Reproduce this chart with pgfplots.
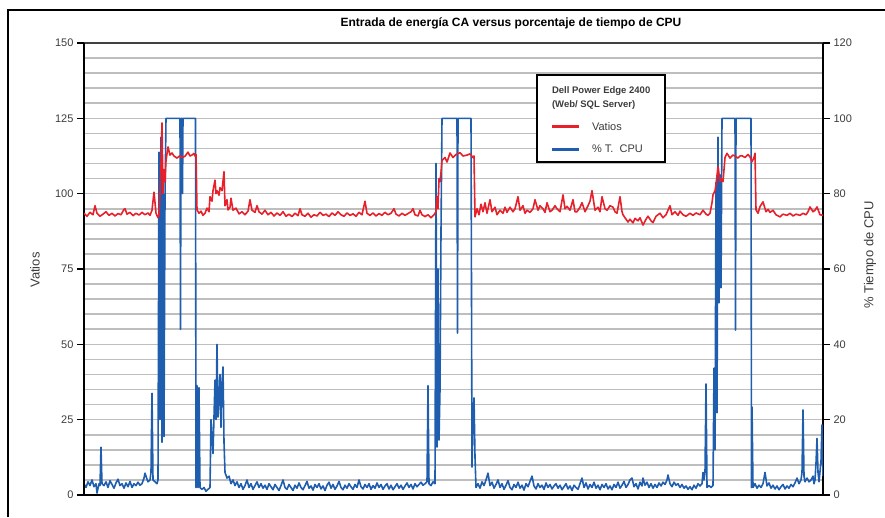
\documentclass[border=0pt]{standalone}
\usepackage{fontspec}
\setmainfont{Liberation Sans}
\usepackage{pgfplots}
\pgfplotsset{compat=1.18}
\definecolor{vred}{HTML}{E8202A}
\definecolor{cblue}{HTML}{1F5DAE}
\definecolor{gridgray}{HTML}{BEBEBE}
\definecolor{ticktext}{HTML}{3C3C3C}

\pgfplotsset{
  base/.style={
    at={(84pt,22pt)}, anchor=south west, scale only axis,
    width=739pt, height=452pt, xmin=84, xmax=823,
    xtick=\empty, tick align=outside,
    major tick length=7pt, minor tick length=0pt,
    every tick/.style={black, line width=1.6pt},
    yticklabel style={font=\fontsize{11}{13}\selectfont, text=ticktext},
    /pgf/number format/assume math mode=true,
  },
}

\begin{document}
\begin{tikzpicture}
\path[use as bounding box] (0,0) rectangle (885pt,517pt);
\draw[black, line width=2.5pt] (8pt,0pt) -- (8pt,507pt) -- (886pt,507pt);

\node[font=\bfseries\fontsize{12}{14}\selectfont] at (511pt,494pt)
  {Entrada de energía CA versus porcentaje de tiempo de CPU};
\node[rotate=90, font=\fontsize{13}{15}\selectfont, text=ticktext] at (35pt,247pt) {Vatios};
\node[rotate=90, font=\fontsize{13}{15}\selectfont, text=ticktext] at (870pt,262pt) {\% Tiempo de CPU};

% right axis: % CPU time, carries the grid
\begin{axis}[base,
  ymin=0, ymax=120,
  axis y line*=right, axis x line*=top,
  y axis line style={black, line width=2.6pt},
  x axis line style={black!75, line width=1.8pt},
  ytick={0,20,...,120}, minor ytick={0,4,...,120},
  ymajorgrids, yminorgrids,
  grid style={gridgray, line width=1.6pt},
]
\addplot[cblue, line width=1.6pt, line join=round] coordinates {
(84,3.0)(86,2.0)(88,3.5)(90,2.5)(92,4.0)(94,2.2)(96,3.0)(97,0.5)(99,3.0)(100,2.5)
(101,12.7)(102,3.0)(104,2.5)(106,3.5)(108,2.0)(110,3.8)(112,2.8)(114,1.8)(116,3.2)(118,4.2)
(120,2.5)(122,3.0)(124,1.8)(126,3.2)(128,2.2)(130,3.6)(132,2.0)(134,3.0)(136,2.5)(138,3.4)
(140,2.6)(142,3.0)(144,4.5)(145,5.8)(147,4.2)(148,3.5)(150,4.0)(151,6.0)(152,27.0)(153,4.0)
(155,3.5)(157,3.0)(158,4.0)(159,91.0)(160,20.0)(161,95.0)(162,14.0)(163,80.0)(164,15.5)(165,79.0)
(166,100.0)(180,100.0)(180.5,44.0)(181,100.0)(182,100.0)(182.5,80.0)(183,100.0)(195.5,100.0)(196,2.0)
(197,29.0)(198,2.0)(199,28.5)(200,2.0)(202,1.5)(204,2.0)(206,1.0)(208,1.5)(210,2.0)
(211,20.0)(213,11.0)(215,30.5)(216,20.0)(217,40.0)(218,20.7)(219,25.0)(220,32.0)(221,18.0)(222,30.0)
(223,34.0)(224,14.0)(225,6.0)(227,4.5)(229,5.0)(231,3.0)(233,4.0)(235,2.5)(237,3.5)(239,2.0)
(241,3.0)(243,1.5)(245,2.5)(247,4.0)(249,2.0)(251,3.0)(253,1.5)(255,2.5)(257,3.5)(259,2.0)
(261,3.0)(263,1.8)(265,2.6)(267,1.5)(269,3.0)(271,2.2)(273,1.4)(275,2.8)(277,2.0)(279,1.2)
(281,2.5)(283,4.0)(285,2.0)(287,1.5)(289,2.8)(291,2.0)(293,1.2)(295,2.6)(297,1.8)(299,3.2)
(301,2.0)(303,1.4)(305,2.5)(307,3.6)(309,1.8)(311,2.4)(313,1.3)(315,2.8)(317,2.0)(319,3.0)
(321,1.6)(323,2.4)(325,1.2)(327,2.6)(329,3.4)(331,1.8)(333,2.8)(335,1.5)(337,2.4)(339,3.6)
(341,2.0)(343,1.4)(345,2.6)(347,1.8)(349,3.0)(351,2.2)(353,1.5)(355,2.8)(357,2.0)(359,4.0)
(361,2.2)(363,1.6)(365,2.8)(367,2.0)(369,3.0)(371,1.5)(373,2.5)(375,1.8)(377,3.2)(379,2.0)
(381,2.8)(383,1.5)(385,2.4)(387,3.0)(389,1.6)(391,2.6)(393,1.4)(395,2.2)(397,3.0)(399,1.8)
(401,2.6)(403,1.5)(405,2.4)(407,3.2)(409,2.0)(411,2.8)(413,1.6)(415,3.0)(417,2.2)(419,2.8)
(421,3.4)(423,2.6)(425,3.0)(427,3.5)(428,29.0)(429,3.0)(431,2.5)(433,3.5)(435,3.0)
(436,88.0)(437,12.7)(438,60.0)(439,14.6)(440,28.0)(441,70.0)(442,100.0)(457,100.0)(457.5,43.0)(458,100.0)
(471,100.0)(472,7.4)(473,20.0)(474,25.8)(475,10.0)(476,2.0)(478,3.0)(480,1.8)(482,3.5)(484,2.5)
(486,4.0)(488,5.8)(490,2.5)(492,3.4)(494,1.8)(496,2.8)(498,4.0)(500,2.0)(502,3.0)(504,1.5)
(506,2.6)(508,3.8)(510,2.0)(512,1.4)(514,2.8)(516,2.0)(518,3.4)(520,1.8)(522,2.6)(524,1.3)
(526,3.0)(528,2.2)(530,3.6)(532,5.0)(534,2.4)(536,1.6)(538,3.0)(540,2.0)(542,2.6)(544,1.5)
(546,3.2)(548,2.0)(550,2.8)(552,1.6)(554,2.4)(556,3.0)(558,1.8)(560,2.6)(562,1.4)(564,2.2)
(566,3.0)(568,1.6)(570,2.4)(572,1.2)(574,2.6)(576,2.0)(578,1.5)(580,3.0)(582,4.5)(584,2.0)
(586,3.2)(588,1.6)(590,2.8)(592,2.0)(594,3.4)(596,1.8)(598,2.6)(600,1.4)(602,2.8)(604,2.0)
(606,3.0)(608,1.6)(610,2.4)(612,1.4)(614,2.8)(616,2.0)(618,3.4)(620,1.8)(622,2.6)(624,3.6)
(626,2.0)(628,2.8)(630,4.0)(632,4.5)(634,2.2)(636,3.0)(638,1.6)(640,3.4)(642,2.4)(643,4.5)
(645,2.6)(647,3.4)(649,2.0)(651,3.0)(653,1.8)(655,2.8)(657,2.0)(659,3.2)(661,2.4)(663,3.4)
(665,2.8)(667,4.0)(668,5.3)(670,3.0)(672,2.2)(674,3.4)(676,2.6)(678,3.0)(680,2.0)(682,2.8)
(684,1.8)(686,2.4)(688,1.5)(690,2.2)(692,1.4)(694,2.6)(696,1.8)(698,3.0)(700,2.4)(702,3.0)
(703,6.0)(704,4.0)(705,6.0)(706,29.5)(707,2.0)(709,2.5)(711,2.0)(713,2.5)(714,33.7)(715,12.0)
(716,83.0)(717,21.8)(718,95.0)(719,51.0)(720,85.0)(721,55.0)(722,100.0)(735,100.0)(735.5,43.8)(736,100.0)
(751,100.0)(751.5,2.0)(752,23.4)(753,2.0)(755,3.0)(757,1.8)(759,2.6)(761,2.0)(763,3.0)(765,6.0)
(767,2.4)(769,3.2)(771,1.8)(773,2.6)(775,1.6)(777,2.4)(779,1.4)(781,2.2)(783,2.8)(785,1.6)
(787,2.4)(789,1.8)(791,2.8)(793,2.2)(795,3.2)(797,4.5)(799,3.0)(801,4.0)(802,6.0)(803,22.6)
(804,5.0)(805,3.5)(807,4.5)(809,3.5)(811,4.0)(813,5.0)(814,3.0)(815,4.0)(816,8.5)(817,15.0)
(818,6.0)(819,3.5)(821,9.0)(822,18.6)(823,5.0)
};
\end{axis}

% left axis: watts
\begin{axis}[base,
  ymin=0, ymax=150,
  axis y line*=left, axis x line*=bottom,
  axis line style={black, line width=2.6pt},
  ytick={0,25,...,150},
  legend cell align=left,
  legend image code/.code={\draw[#1, line width=3pt] (0pt,0pt) -- (27pt,0pt);},
  legend style={at={(0.6116,0.9314)}, anchor=north west, draw=black,
    line width=2.2pt, inner xsep=13pt, inner ysep=6pt, row sep=9pt,
    font=\fontsize{11}{13}\selectfont, text=ticktext},
]
\addlegendimage{empty legend}
\addlegendentry{\hspace*{-30pt}\fontsize{9.5}{14.5}\selectfont\bfseries
  \begin{tabular}[b]{@{}l@{}}Dell Power Edge 2400\\(Web/ SQL Server)\end{tabular}}
\addplot[vred, line width=1.6pt, line join=round] coordinates {
(84,93.5)(87,92.5)(90,93.8)(93,93.0)(95,96.0)(97,93.5)(100,92.5)(103,93.2)(106,94.0)(109,92.8)
(112,93.5)(115,92.6)(118,93.4)(121,93.0)(124,94.8)(125,95.0)(127,93.2)(130,93.8)(133,92.7)(136,93.5)
(139,92.9)(142,93.8)(145,93.0)(148,93.6)(150,92.8)(152,94.5)(154,100.5)(155,97.0)(156,93.5)(158,92.0)
(159,93.0)(160,100.0)(161,110.0)(162,123.5)(163,100.0)(164,108.0)(165,104.0)(166,111.0)(168,115.5)(170,112.8)
(172,113.5)(174,112.5)(177,111.8)(180,112.6)(182,112.0)(185,112.4)(188,113.8)(190,112.5)(192,112.8)(194,113.4)
(195,112.5)(196,113.0)(197,94.6)(199,93.5)(201,94.2)(203,92.8)(205,93.5)(207,95.2)(209,94.0)(210,99.0)
(212,97.5)(213,101.0)(215,104.5)(216,100.0)(217,101.0)(219,99.5)(220,102.0)(222,101.0)(224,107.3)(225,96.0)
(227,98.0)(228,94.6)(230,95.5)(231,98.5)(233,94.5)(236,95.2)(239,93.3)(242,94.0)(245,93.0)(248,94.2)
(250,98.0)(252,94.5)(255,93.8)(257,96.0)(259,94.0)(262,93.2)(265,94.5)(268,93.0)(271,93.8)(274,92.6)
(277,93.6)(280,92.8)(283,94.0)(286,92.5)(289,93.2)(292,92.4)(295,93.5)(298,92.7)(300,95.0)(302,93.0)
(305,92.5)(308,93.5)(311,92.2)(314,93.0)(317,92.6)(320,93.8)(323,92.8)(326,93.2)(329,92.4)(332,93.6)
(335,92.8)(338,94.0)(341,93.0)(344,92.5)(347,93.6)(350,92.8)(353,93.3)(356,92.5)(359,93.8)(362,93.0)
(365,97.5)(367,93.5)(370,92.8)(373,93.6)(376,92.6)(379,93.4)(382,92.8)(385,93.8)(388,93.0)(391,93.5)
(394,95.0)(396,93.2)(399,92.6)(402,93.5)(405,92.8)(408,93.4)(411,94.0)(413,95.0)(415,93.0)(418,92.6)
(420,94.5)(422,93.0)(425,92.4)(428,93.0)(431,92.0)(434,93.0)(436,94.0)(437,99.0)(438,95.0)(439,105.0)
(440,104.0)(441,107.0)(442,111.0)(445,112.0)(447,110.5)(450,113.5)(453,112.0)(456,113.0)(460,113.6)(463,112.5)
(467,112.8)(470,113.2)(473,112.0)(474,112.5)(475,92.3)(477,95.0)(479,93.0)(481,96.5)(483,94.0)(485,97.0)
(487,93.5)(490,98.0)(492,94.0)(495,95.5)(497,93.0)(500,94.5)(503,93.5)(505,95.5)(507,93.8)(510,95.5)
(513,94.0)(515,95.0)(518,99.0)(520,94.5)(523,96.0)(525,93.5)(527,94.5)(530,93.8)(533,95.0)(535,98.0)
(538,94.5)(540,96.0)(543,95.0)(545,93.8)(547,97.0)(550,94.0)(552,94.5)(555,96.0)(557,95.0)(560,94.0)
(563,99.6)(565,95.0)(567,95.8)(570,94.5)(573,98.0)(575,94.0)(577,94.0)(580,95.5)(582,97.0)(585,94.0)
(588,96.0)(590,97.5)(592,101.0)(595,94.5)(598,95.5)(600,94.0)(602,99.0)(605,95.0)(607,94.5)(610,96.0)
(613,95.5)(615,94.0)(617,93.5)(620,99.0)(622,94.0)(623,93.0)(625,92.0)(628,90.6)(630,91.5)(633,90.3)
(635,91.8)(638,91.0)(640,92.0)(643,89.6)(646,91.5)(648,92.5)(651,91.0)(653,90.4)(656,92.5)(660,93.5)
(663,92.0)(666,93.0)(670,96.0)(672,93.0)(675,94.0)(678,92.8)(680,94.2)(683,93.0)(686,92.5)(690,93.5)
(693,92.8)(696,93.6)(700,93.0)(703,94.5)(706,93.2)(708,92.8)(710,93.5)(712,97.0)(713,99.6)(715,101.0)
(716,103.0)(718,109.0)(720,104.0)(721,105.0)(723,104.0)(725,112.0)(727,113.4)(730,111.8)(733,112.8)(735,112.5)
(738,111.8)(740,112.5)(742,112.6)(745,112.0)(748,113.0)(750,112.2)(752,110.6)(754,112.0)(755,113.4)(756,94.6)
(758,93.5)(760,95.7)(763,97.3)(766,94.0)(768,94.8)(770,93.8)(773,94.5)(776,93.0)(780,92.3)(783,93.2)
(787,92.8)(790,93.5)(793,92.6)(796,93.2)(800,92.8)(803,93.5)(806,93.0)(808,94.0)(810,95.6)(813,94.0)
(815,94.5)(817,95.6)(820,93.0)(823,92.8)
};
\addlegendentry{\hspace*{10pt}Vatios}
\addlegendimage{cblue}
\addlegendentry{\hspace*{10pt}\% T.\ \ CPU}
\end{axis}
\end{tikzpicture}
\end{document}
